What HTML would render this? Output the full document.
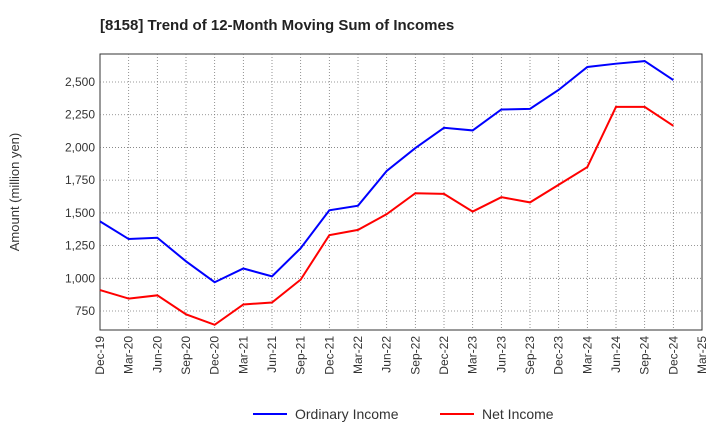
<!DOCTYPE html>
<html><head><meta charset="utf-8"><style>
body{margin:0;background:#fff;font-family:"Liberation Sans",sans-serif;}
</style></head><body>
<svg id="c" width="720" height="440" xmlns="http://www.w3.org/2000/svg">
<text x="100" y="30" font-size="15" font-weight="bold" fill="#222">[8158]  Trend of 12-Month Moving Sum of Incomes</text>
<text transform="translate(19,192) rotate(-90)" text-anchor="middle" font-size="13" fill="#333">Amount (million yen)</text>
<g id="grid"></g><g id="ticks"></g><g id="series"></g>
<g>
<line x1="253" y1="414" x2="287" y2="414" stroke="#0000ff" stroke-width="2"/>
<text x="295" y="419" font-size="14" fill="#333">Ordinary Income</text>
<line x1="440" y1="414" x2="474" y2="414" stroke="#ff0000" stroke-width="2"/>
<text x="482" y="419" font-size="14" fill="#333">Net Income</text>
</g>
</svg>
<script>
const categories=["Dec-19","Mar-20","Jun-20","Sep-20","Dec-20","Mar-21","Jun-21","Sep-21","Dec-21","Mar-22","Jun-22","Sep-22","Dec-22","Mar-23","Jun-23","Sep-23","Dec-23","Mar-24","Jun-24","Sep-24","Dec-24","Mar-25"];
const ordinaryIncome=[1435,1300,1310,1130,970,1075,1015,1230,1520,1555,1820,1995,2150,2130,2290,2295,2440,2615,2640,2660,2515];
const netIncome=[910,845,870,725,645,800,815,990,1330,1370,1490,1650,1645,1510,1620,1580,1715,1850,2310,2310,2165];
const yTicks=[750,1000,1250,1500,1750,2000,2250,2500];
const L=100,R=702,T=54,B=330,yMin=605,yMax=2714;
const x=i=>L+(R-L)*i/(categories.length-1);
const y=v=>B-(v-yMin)/(yMax-yMin)*(B-T);
const NS="http://www.w3.org/2000/svg";
function mk(tag,attrs,parent){const e=document.createElementNS(NS,tag);for(const k in attrs)e.setAttribute(k,attrs[k]);document.getElementById(parent).appendChild(e);return e;}
const bg=mk("rect",{x:L,y:T,width:R-L,height:B-T,fill:"#fff",stroke:"#333","stroke-width":1},"grid");


categories.forEach((c,i)=>{
 if(i>0&&i<categories.length-1){const g=mk("line",{x1:x(i),x2:x(i),y1:T,y2:B,stroke:"#777","stroke-dasharray":"1,2","stroke-width":0.8},"grid");
 
 }
 const t=mk("text",{transform:`translate(${x(i)+4},${B+6}) rotate(-90)`,"text-anchor":"end","font-size":12,fill:"#333"},"ticks");
 t.textContent=c;
 
 
});
yTicks.forEach(v=>{
 const g=mk("line",{x1:L,x2:R,y1:y(v),y2:y(v),stroke:"#777","stroke-dasharray":"1,2","stroke-width":0.8},"grid");
 
 
 const t=mk("text",{x:L-5,y:y(v)+4,"text-anchor":"end","font-size":12,fill:"#333"},"ticks");
 t.textContent=v.toLocaleString("en-US");
 
 
});
function line(d,col,name){
 const p=mk("polyline",{points:d.map((v,i)=>x(i)+","+y(v)).join(" "),fill:"none",stroke:col,"stroke-width":2},"series");
 
 
}
line(ordinaryIncome,"#0000ff","ordinary-income-line");
line(netIncome,"#ff0000","net-income-line");
</script>
</body></html>
